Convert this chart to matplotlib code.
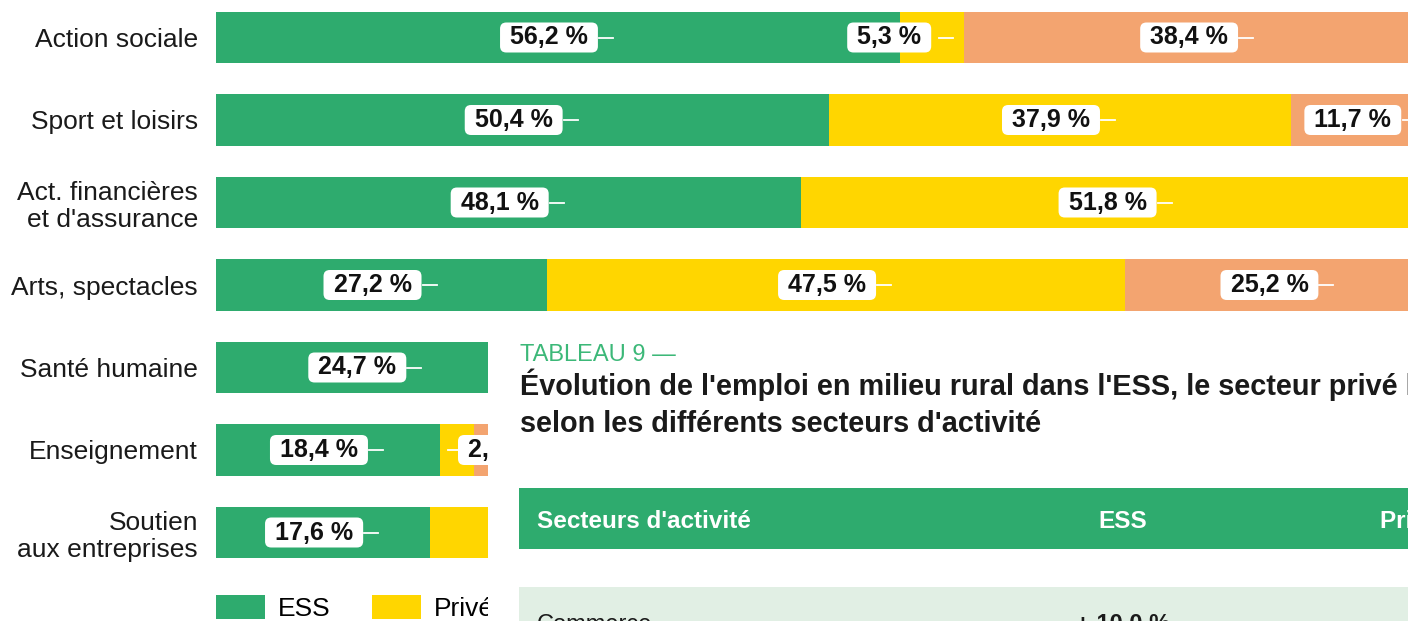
import numpy as np
import matplotlib
matplotlib.use("Agg")
import matplotlib.pyplot as plt
from matplotlib.patches import Rectangle, Patch

plt.rcParams['font.family'] = ['Liberation Sans', 'DejaVu Sans']

# data (parts hidden behind the overlapping panel are estimates)
secteurs = ["Action sociale", "Sport et loisirs", "Act. financières\net d'assurance",
            "Arts, spectacles", "Santé humaine", "Enseignement", "Soutien\naux entreprises"]
ess = [56.2, 50.4, 48.1, 27.2, 24.7, 18.4, 17.6]
prive = [5.3, 37.9, 51.8, 47.5, 45.1, 2.8, 76.9]
public = [38.4, 11.7, 0.1, 25.2, 30.2, 78.8, 5.5]
series = ["ESS", "Privé", "Public"]
couleurs = ["#2eab6e", "#ffd600", "#f3a470"]

W, H = 1408, 621
fig = plt.figure(figsize=(W / 100, H / 100), dpi=100)
fig.patch.set_facecolor("white")

# main axes: 0 % at x=216 px, 100 % at x=1433 px (runs past the right edge)
x0, x100 = 216, 1433
ax = fig.add_axes([x0 / W, 0, (x100 - x0) / W, 1])
pas = 82.5  # px between bars
ax.set_xlim(0, 100)
ax.set_ylim((H - 37.5) / pas, -37.5 / pas)
px = (x100 - x0) / 100.0  # pixels per percent

y = np.arange(len(secteurs))
gauche = np.zeros(len(secteurs))
for vals, nom, c in zip([ess, prive, public], series, couleurs):
    vals = np.array(vals)
    ax.barh(y, vals, left=gauche, height=0.63, color=c, label=nom, linewidth=0)
    for i, v in enumerate(vals):
        if v < 1:
            continue
        xc = gauche[i] + v / 2
        lab = " " + f"{v:.1f}".replace(".", ",") + " % "
        if v < 4:
            # tiny segment: label to the right, tick on the left
            ax.plot([xc - 9 / px, gauche[i] + v - 13 / px], [i, i], color="white", lw=1.3, zorder=3)
            ax.text(gauche[i] + v - 13 / px, i, lab, ha="left", va="center", fontsize=18,
                    fontweight="bold", color="#111111", zorder=4,
                    bbox=dict(boxstyle="round,pad=0.12,rounding_size=0.25", fc="white", ec="none"))
            continue
        if v * px < 110:
            cx = xc - 43 / px
        else:
            cx = xc - 9 / px
        ax.text(cx, i, lab, ha="center", va="center", fontsize=18, fontweight="bold",
                color="#111111", zorder=4,
                bbox=dict(boxstyle="round,pad=0.12,rounding_size=0.25", fc="white", ec="none"))
        ax.plot([cx + 50 / px, cx + 64 / px], [i, i], color="white", lw=1.3, zorder=3)
    gauche += vals

ax.set_yticks(y)
ax.set_yticklabels(secteurs, fontsize=19, color="#1a1a1a", linespacing=1.15)
ax.tick_params(axis="y", length=0, pad=13)
ax.set_xticks([])
for s in ax.spines.values():
    s.set_visible(False)

handles = [Patch(facecolor=c, edgecolor="none", label=n) for c, n in zip(couleurs, series)]
ax.legend(handles=handles, loc="upper left", bbox_to_anchor=(0, 1 - 595 / H), ncol=3,
          frameon=False, fontsize=19, handlelength=1.86, handleheight=1.0,
          handletextpad=0.5, columnspacing=1.55, borderpad=0, borderaxespad=0)

# overlapping panel (table 9), drawn on top
top = 325
pn = fig.add_axes([488 / W, 0, (W - 488) / W, (H - top) / H], zorder=5)
pn.set_facecolor("white")
pn.set_xlim(488, W)
pn.set_ylim(H, top)
pn.set_xticks([])
pn.set_yticks([])
for s in pn.spines.values():
    s.set_visible(False)

pn.text(520, 361, "TABLEAU 9 —", color="#3cb878", fontsize=17, va="baseline", ha="left")
pn.text(520, 395, "Évolution de l'emploi en milieu rural dans l'ESS, le secteur privé lucratif et le secteur public",
        fontsize=20.8, fontweight="bold", color="#1a1a1a", va="baseline", ha="left", clip_on=True)
pn.text(520, 432, "selon les différents secteurs d'activité",
        fontsize=20.8, fontweight="bold", color="#1a1a1a", va="baseline", ha="left")

pn.add_patch(Rectangle((519, 488), 1000, 61, facecolor="#2eab6e", edgecolor="none"))
pn.text(537, 528, "Secteurs d'activité", color="white", fontsize=17.5, fontweight="bold", va="baseline")
pn.text(1123, 528, "ESS", color="white", fontsize=17.5, fontweight="bold", va="baseline", ha="center")
pn.text(1380, 528, "Privé lucratif", color="white", fontsize=17.5, fontweight="bold", va="baseline",
        clip_on=True)

pn.add_patch(Rectangle((519, 587), 1000, 60, facecolor="#e1efe4", edgecolor="none"))
pn.text(537, 631, "Commerce", color="#1a1a1a", fontsize=17, va="baseline", clip_on=True)
pn.text(1123, 631, "+ 10,0 %", color="#1a1a1a", fontsize=17, fontweight="bold", va="baseline",
        ha="center", clip_on=True)

fig.savefig("out.png", dpi=100)
